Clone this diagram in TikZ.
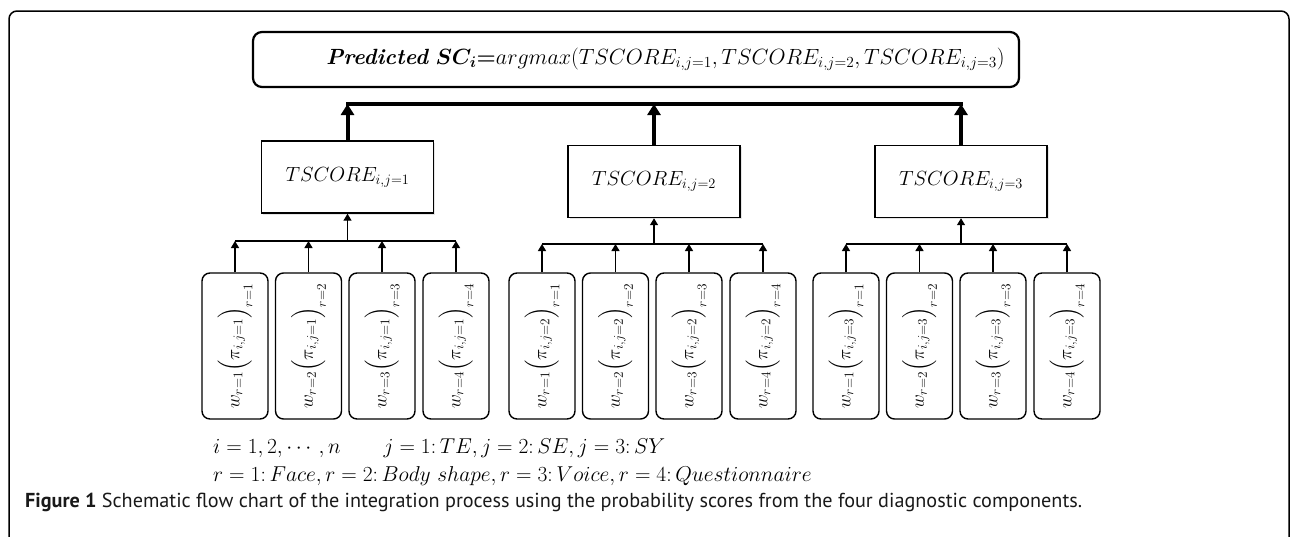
\RequirePackage{fix-cm}
\documentclass[tikz,border=0pt]{standalone}
\usepackage{amsmath,amssymb,graphicx}
\usepackage{fontspec}
\newfontfamily\capfont{PT Sans}
\usetikzlibrary{arrows.meta,calc,shadows}

\begin{document}
\begin{tikzpicture}[x=1pt,y=-1pt,
	topbox/.style={draw,line width=2.2pt,rounded corners=9pt,minimum width=766pt,minimum height=55pt,inner sep=0pt},
	scorebox/.style={draw,line width=1.4pt,fill=white,minimum width=172pt,minimum height=72pt,inner sep=0pt,
		drop shadow={shadow xshift=1.5pt,shadow yshift=-1.5pt,fill=black!20}},
	wbox/.style={draw,line width=1.4pt,rounded corners=8pt,minimum width=66pt,minimum height=146pt,inner sep=0pt},
	thinarrow/.style={line width=1.3pt,-{Triangle[length=7pt,width=8pt]}},
	thickarrow/.style={line width=4pt,-{Triangle[length=11pt,width=13pt]}},
	legend/.style={anchor=west,inner sep=0pt,font=\fontsize{21.5}{24}\selectfont}]
	\useasboundingbox (0,0) rectangle (1292,536);
	% outer frame
	\draw[line width=1.5pt,rounded corners=8pt] (9,545) -- (9,11) -- (1289,11) -- (1289,545);
	
	% decision box
	\node[topbox] (top) at (636,59.5) {};
	\node[anchor=west,inner sep=0pt,font=\fontsize{22}{26}\selectfont] (toptext) at ($(top.west)+(74,0)$)
		{\textbf{\textit{Predicted}} $\boldsymbol{SC_i}{\boldsymbol{=}}argmax(TSCORE_{i,j=1},TSCORE_{i,j=2},TSCORE_{i,j=3})$};
	\coordinate (bus) at (0,104);
	
	% three groups
	\foreach \j/\tx/\ty/\wx/\by in {1/347.5/177/235/241, 2/654/181.5/542/244, 3/961/181.5/846/244} {
		\node[scorebox,font=\fontsize{20.5}{24}\selectfont] (t\j) at (\tx,\ty) {$TSCORE_{i,j=\j}$};
		\coordinate (b\j) at (\tx,\by);
		\foreach \r/\dx in {1/0, 2/73.5, 3/147, 4/221} {
			\node[wbox] (w\j-\r) at (\wx+\dx,346)
				{\rotatebox{90}{\fontsize{19}{20}\selectfont$w_{r=\r}\Big(\pi_{i,j=\j}\Big)_{r=\r}$}};
			\draw[thinarrow] (w\j-\r.north) -- (w\j-\r.north |- b\j);
		}
		\draw[line width=1.3pt] (w\j-1.north |- b\j) -- (w\j-4.north |- b\j);
		\draw[thinarrow] (b\j) -- (t\j.south);
		\draw[thickarrow] (t\j.north) -- (t\j.north |- bus);
	}
	\draw[line width=4pt,line cap=rect] (t1.north |- bus) -- (t3.north |- bus);
	
	% index legend
	\node[legend] (idx) at (213,448)
		{$i=1,2,\cdots,n$\qquad$j=1{:}\,TE,j=2{:}\,SE,j=3{:}\,SY$};
	\node[legend] (comp) at (213,476)
		{$r=1{:}\,Face,r=2{:}\,Body\ shape,r=3{:}\,Voice,r=4{:}\,Questionnaire$};
	
	% caption
	\node[anchor=west,inner sep=0pt,font=\capfont\fontsize{20.2}{24}\selectfont,text=black!90] (cap) at (25,502)
		{\textbf{Figure 1} Schematic flow chart of the integration process using the probability scores from the four diagnostic components.};
\end{tikzpicture}
\end{document}
